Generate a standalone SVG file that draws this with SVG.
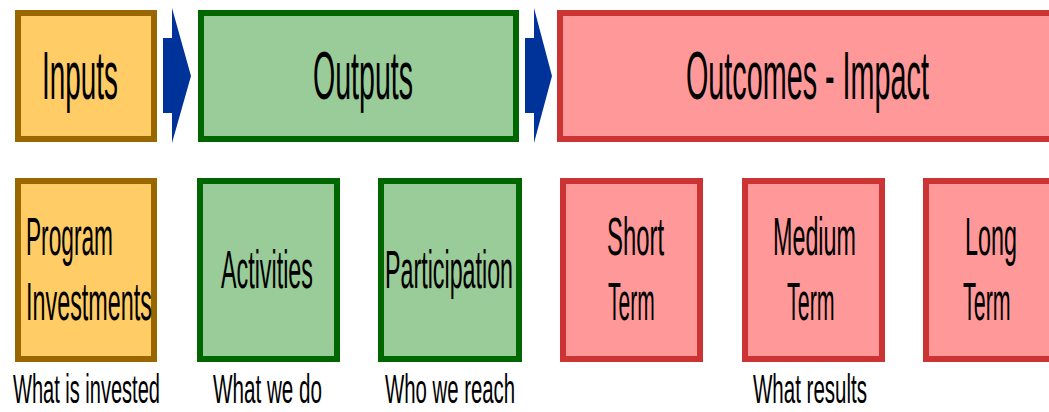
<svg xmlns="http://www.w3.org/2000/svg" width="1049" height="412" viewBox="0 0 1049 412">
<style>
.in{fill:#FFCC66;stroke:#996600;stroke-width:6}
.out{fill:#99CC99;stroke:#006600;stroke-width:6}
.oc{fill:#FF9999;stroke:#CC3333;stroke-width:6}
text{font-family:"Liberation Sans",Arial,sans-serif;fill:#000}
.h{font-size:68px}
.b{font-size:54px}
.l{font-size:40px}
.arr{fill:#003399}
</style>
<rect width="1049" height="412" fill="#fff"/>
<g id="inputs"><rect class="in" x="18" y="13" width="136" height="126"/><text class="h" transform="translate(42,99) scale(0.41,1)">Inputs</text></g>
<g id="outputs"><rect class="out" x="201" y="13" width="315" height="126"/><text class="h" transform="translate(313,99) scale(0.42,1)">Outputs</text></g>
<g id="outcomes"><rect class="oc" x="560" y="13" width="520" height="126"/><text class="h" transform="translate(686,99) scale(0.423,1)">Outcomes - Impact</text></g>
<g id="connectors">
<polygon class="arr" points="163,38 172,38 172,8 191,76 172,143 172,113 163,113"/>
<polygon class="arr" points="525,38 534,38 534,8 552,76 534,143 534,113 525,113"/>
</g>
<g id="program"><rect class="in" x="18" y="181" width="136" height="178"/><text class="b" transform="translate(26,255) scale(0.42,1)">Program</text><text class="b" transform="translate(26,320) scale(0.433,1)">Investments</text></g>
<g id="activities"><rect class="out" x="200" y="181" width="137" height="178"/><text class="b" transform="translate(221,288) scale(0.432,1)">Activities</text></g>
<g id="participation"><rect class="out" x="381" y="181" width="138" height="178"/><text class="b" transform="translate(385,288) scale(0.431,1)">Participation</text></g>
<g id="short"><rect class="oc" x="563" y="181" width="137" height="178"/><text class="b" transform="translate(607,255) scale(0.442,1)">Short</text><text class="b" transform="translate(608,320) scale(0.389,1)">Term</text></g>
<g id="medium"><rect class="oc" x="745" y="181" width="137" height="178"/><text class="b" transform="translate(773,255) scale(0.432,1)">Medium</text><text class="b" transform="translate(787,320) scale(0.397,1)">Term</text></g>
<g id="long"><rect class="oc" x="926" y="181" width="200" height="178"/><text class="b" transform="translate(965,255) scale(0.433,1)">Long</text><text class="b" transform="translate(963,320) scale(0.397,1)">Term</text></g>
<g id="labels">
<text class="l" transform="translate(13,403) scale(0.501,1)">What is invested</text>
<text class="l" transform="translate(213,403) scale(0.516,1)">What we do</text>
<text class="l" transform="translate(385,403) scale(0.509,1)">Who we reach</text>
<text class="l" transform="translate(753,403) scale(0.513,1)">What results</text>
</g>
</svg>
